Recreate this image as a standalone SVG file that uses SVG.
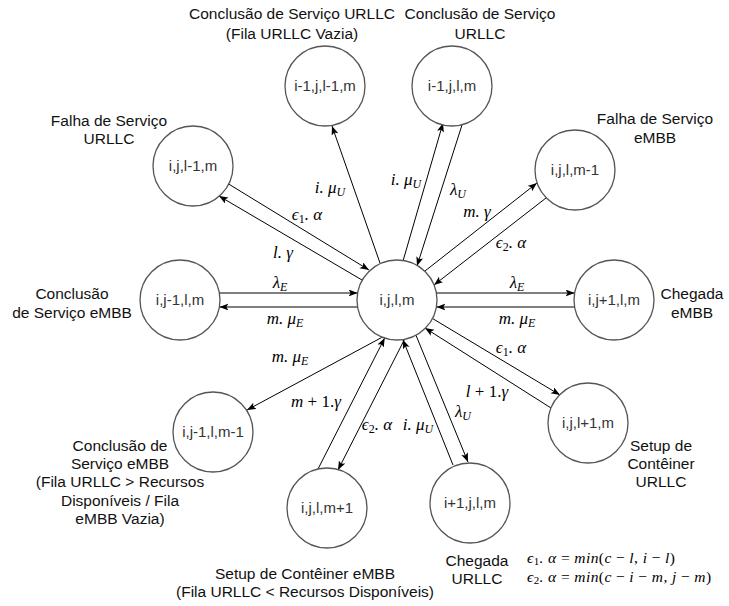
<svg xmlns="http://www.w3.org/2000/svg" width="729" height="606" viewBox="0 0 729 606">
<style>
.node circle{fill:#fff;stroke:#555;stroke-width:1.3}
.node text{font-family:"Liberation Sans",Arial,sans-serif;font-size:15px;fill:#333;text-anchor:middle}
.lbl{font-family:"Liberation Sans",Arial,sans-serif;font-size:15.5px;fill:#111;text-anchor:middle}
.edge{stroke:#000;stroke-width:1;fill:none;marker-end:url(#arr)}
.m{font-family:"Liberation Serif","DejaVu Serif",serif;font-style:italic;font-size:17px;fill:#000;text-anchor:middle}
.f{font-family:"Liberation Serif","DejaVu Serif",serif;font-style:italic;font-size:15.5px;letter-spacing:0.4px;fill:#000}
.s{font-size:12px}
.fs{font-size:11px}
.u{font-style:normal}
</style>
<defs>
<marker id="arr" markerUnits="userSpaceOnUse" markerWidth="10" markerHeight="8" refX="9" refY="3.5" orient="auto"><path d="M0,0 L9,3.5 L0,7 L2,3.5 z" fill="#000"/></marker>
</defs>

<g id="connectors">
<line class="edge" x1="380" y1="263" x2="332" y2="126"/>
<line class="edge" x1="403" y1="261" x2="443" y2="123"/>
<line class="edge" x1="462" y1="125" x2="417" y2="266"/>
<line class="edge" x1="227" y1="183" x2="369" y2="270"/>
<line class="edge" x1="362" y1="280" x2="219" y2="196"/>
<line class="edge" x1="425" y1="271" x2="537" y2="183"/>
<line class="edge" x1="546" y1="198" x2="434" y2="285"/>
<line class="edge" x1="219.4" y1="293" x2="357.6" y2="293"/>
<line class="edge" x1="357.6" y1="307" x2="219.4" y2="307"/>
<line class="edge" x1="436.4" y1="293" x2="574.6" y2="293"/>
<line class="edge" x1="574.6" y1="307" x2="436.4" y2="307"/>
<line class="edge" x1="382" y1="337.3" x2="247" y2="410"/>
<line class="edge" x1="433" y1="318.8" x2="560" y2="395"/>
<line class="edge" x1="551" y1="408" x2="425" y2="328"/>
<line class="edge" x1="318" y1="469" x2="384.7" y2="338"/>
<line class="edge" x1="404.6" y1="339.2" x2="338" y2="470"/>
<line class="edge" x1="453" y1="465" x2="402.9" y2="339.7"/>
<line class="edge" x1="416" y1="335.3" x2="468" y2="462"/>
</g>

<g id="edge-labels">
<text class="m" x="330" y="193">i. μ<tspan class="s" dy="3">U</tspan></text>
<text class="m" x="406" y="185">i. μ<tspan class="s" dy="3">U</tspan></text>
<text class="m" x="458" y="195">λ<tspan class="s" dy="3">U</tspan></text>
<text class="m" x="307" y="220">ϵ<tspan class="s u" dy="3">1</tspan><tspan dy="-3">. α</tspan></text>
<text class="m" x="283" y="258">l. γ</text>
<text class="m" x="477" y="217">m. γ</text>
<text class="m" x="511" y="248">ϵ<tspan class="s u" dy="3">2</tspan><tspan dy="-3">. α</tspan></text>
<text class="m" x="280" y="288">λ<tspan class="s" dy="3">E</tspan></text>
<text class="m" x="285" y="324">m. μ<tspan class="s" dy="3">E</tspan></text>
<text class="m" x="517" y="288">λ<tspan class="s" dy="3">E</tspan></text>
<text class="m" x="517" y="324">m. μ<tspan class="s" dy="3">E</tspan></text>
<text class="m" x="290" y="362">m. μ<tspan class="s" dy="3">E</tspan></text>
<text class="m" x="511" y="353">ϵ<tspan class="s u" dy="3">1</tspan><tspan dy="-3">. α</tspan></text>
<text class="m" x="487" y="397">l <tspan class="u">+ 1.</tspan>γ</text>
<text class="m" x="316" y="407">m <tspan class="u">+ 1.</tspan>γ</text>
<text class="m" x="377" y="430">ϵ<tspan class="s u" dy="3">2</tspan><tspan dy="-3">. α</tspan></text>
<text class="m" x="418" y="430">i. μ<tspan class="s" dy="3">U</tspan></text>
<text class="m" x="463" y="417">λ<tspan class="s" dy="3">U</tspan></text>
</g>

<g id="node-center" class="node"><circle cx="397" cy="300" r="40"/><text x="397" y="305">i,j,l,m</text></g>
<g id="node-i-1-j-l-1-m" class="node"><circle cx="325" cy="86" r="40"/><text x="325" y="91">i-1,j,l-1,m</text></g>
<g id="node-i-1-j-l-m" class="node"><circle cx="452" cy="86" r="40"/><text x="452" y="91">i-1,j,l,m</text></g>
<g id="node-i-j-l-1-m" class="node"><circle cx="193" cy="166" r="40"/><text x="193" y="171">i,j,l-1,m</text></g>
<g id="node-i-j-l-m-1" class="node"><circle cx="575" cy="170" r="40"/><text x="575" y="175">i,j,l,m-1</text></g>
<g id="node-i-j-1-l-m" class="node"><circle cx="180" cy="300" r="40"/><text x="180" y="305">i,j-1,l,m</text></g>
<g id="node-i-j+1-l-m" class="node"><circle cx="614" cy="300" r="40"/><text x="614" y="305">i,j+1,l,m</text></g>
<g id="node-i-j-1-l-m-1" class="node"><circle cx="213" cy="432" r="40"/><text x="213" y="437">i,j-1,l,m-1</text></g>
<g id="node-i-j-l+1-m" class="node"><circle cx="588" cy="423" r="40"/><text x="588" y="428">i,j,l+1,m</text></g>
<g id="node-i-j-l-m+1" class="node"><circle cx="327" cy="508" r="40"/><text x="327" y="513">i,j,l,m+1</text></g>
<g id="node-i+1-j-l-m" class="node"><circle cx="470" cy="503" r="40"/><text x="470" y="508">i+1,j,l,m</text></g>

<g id="labels">
<text class="lbl" x="292" y="18.5">Conclusão de Serviço URLLC</text>
<text class="lbl" x="292" y="38.5">(Fila URLLC Vazia)</text>
<text class="lbl" x="480" y="18.5">Conclusão de Serviço</text>
<text class="lbl" x="480" y="38.5">URLLC</text>
<text class="lbl" x="109" y="125.5">Falha de Serviço</text>
<text class="lbl" x="109" y="143.5">URLLC</text>
<text class="lbl" x="655" y="123.5">Falha de Serviço</text>
<text class="lbl" x="655" y="142.5">eMBB</text>
<text class="lbl" x="72" y="298.5">Conclusão</text>
<text class="lbl" x="72" y="317.5">de Serviço eMBB</text>
<text class="lbl" x="692" y="298.5">Chegada</text>
<text class="lbl" x="692" y="317.5">eMBB</text>
<text class="lbl" x="120" y="450.5">Conclusão de</text>
<text class="lbl" x="120" y="468.5">Serviço eMBB</text>
<text class="lbl" x="120" y="487">(Fila URLLC &gt; Recursos</text>
<text class="lbl" x="120" y="505.5">Disponíveis / Fila</text>
<text class="lbl" x="120" y="523.5">eMBB Vazia)</text>
<text class="lbl" x="661" y="450.5">Setup de</text>
<text class="lbl" x="661" y="468.5">Contêiner</text>
<text class="lbl" x="661" y="487">URLLC</text>
<text class="lbl" x="477" y="565.5">Chegada</text>
<text class="lbl" x="477" y="583.5">URLLC</text>
<text class="lbl" x="305" y="578.5">Setup de Contêiner eMBB</text>
<text class="lbl" x="305" y="596.5">(Fila URLLC &lt; Recursos Disponíveis)</text>
<text class="f" x="527" y="563">ϵ<tspan class="fs u" dy="2">1</tspan><tspan dy="-2">. α </tspan><tspan class="u">= </tspan>min<tspan class="u">(</tspan>c <tspan class="u">−</tspan> l<tspan class="u">, </tspan>i <tspan class="u">−</tspan> l<tspan class="u">)</tspan></text>
<text class="f" x="527" y="582">ϵ<tspan class="fs u" dy="2">2</tspan><tspan dy="-2">. α </tspan><tspan class="u">= </tspan>min<tspan class="u">(</tspan>c <tspan class="u">−</tspan> i <tspan class="u">−</tspan> m<tspan class="u">, </tspan>j <tspan class="u">−</tspan> m<tspan class="u">)</tspan></text>
</g>
</svg>
